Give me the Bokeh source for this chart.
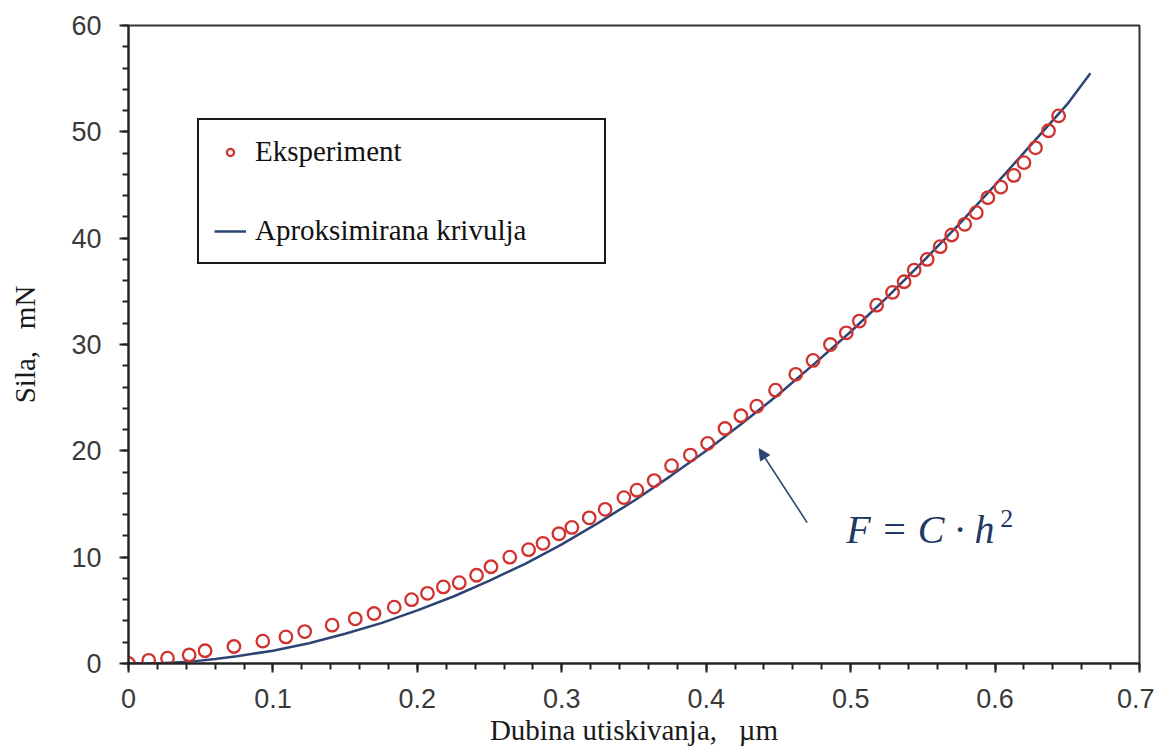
from bokeh.plotting import figure
from bokeh.models import (FixedTicker, Legend, LegendItem, Label, Arrow, NormalHead)
from bokeh.embed import file_html
from bokeh.resources import INLINE

# ---- data ----
h_exp = [0.000, 0.014, 0.027, 0.042, 0.053, 0.073, 0.093, 0.109, 0.122, 0.141,
         0.157, 0.170, 0.184, 0.196, 0.207, 0.218, 0.229, 0.241, 0.251, 0.264,
         0.277, 0.287, 0.298, 0.307, 0.319, 0.330, 0.343, 0.352, 0.364, 0.376,
         0.389, 0.401, 0.413, 0.424, 0.435, 0.448, 0.462, 0.474, 0.486, 0.497,
         0.506, 0.518, 0.529, 0.537, 0.544, 0.553, 0.562, 0.570, 0.579, 0.587,
         0.595, 0.604, 0.613, 0.620, 0.628, 0.637, 0.644]
F_exp = [0.0, 0.3, 0.5, 0.8, 1.2, 1.6, 2.1, 2.5, 3.0, 3.6,
         4.2, 4.7, 5.3, 6.0, 6.6, 7.2, 7.6, 8.3, 9.1, 10.0,
         10.7, 11.3, 12.2, 12.8, 13.7, 14.5, 15.6, 16.3, 17.2, 18.6,
         19.6, 20.7, 22.1, 23.3, 24.2, 25.7, 27.2, 28.5, 30.0, 31.1,
         32.2, 33.7, 34.9, 35.9, 37.0, 38.0, 39.2, 40.3, 41.3, 42.4,
         43.8, 44.8, 45.9, 47.1, 48.5, 50.1, 51.5]

h_fit = [0.0, 0.025, 0.045, 0.06, 0.075, 0.1, 0.125, 0.15, 0.175, 0.2,
         0.225, 0.25, 0.275, 0.3, 0.325, 0.35, 0.375, 0.4, 0.425, 0.45,
         0.475, 0.5, 0.525, 0.55, 0.575, 0.6, 0.625, 0.65, 0.666]
F_fit = [0.0, 0.05, 0.2, 0.42, 0.68, 1.2, 1.9, 2.8, 3.8, 5.0,
         6.3, 7.8, 9.4, 11.2, 13.2, 15.3, 17.6, 20.0, 22.6, 25.3,
         28.2, 31.2, 34.4, 37.8, 41.3, 45.0, 48.8, 52.6, 55.5]

x_ticks = [0.0, 0.1, 0.2, 0.3, 0.4, 0.5, 0.6, 0.7]
x_tick_labels = ["0", "0.1", "0.2", "0.3", "0.4", "0.5", "0.6", "0.7"]
y_ticks = [0, 10, 20, 30, 40, 50, 60]
y_tick_labels = ["0", "10", "20", "30", "40", "50", "60"]

series_names = ["Eksperiment", "Aproksimirana krivulja"]
x_title = "Dubina utiskivanja,\u00a0\u00a0 \u00b5m"
y_title = "Sila,\u00a0\u00a0 mN"
formula_main = "F = C \u00b7 h"
formula_exp = "2"

RED = "#d0322f"
NAVY = "#2c4474"
SERIF = "Liberation Serif"
SANS = "Liberation Sans"

p = figure(width=1154, height=748, x_range=(0, 0.7), y_range=(0, 60),
           output_backend="svg", toolbar_location=None,
           min_border_left=128, min_border_right=15,
           min_border_top=25, min_border_bottom=84)
p.background_fill_color = "white"
p.border_fill_color = "white"
p.grid.visible = False
p.outline_line_color = "#333333"
p.outline_line_width = 2

minor_x = [round(i * 0.02, 2) for i in range(36)]
minor_y = list(range(0, 61, 2))
p.xaxis.ticker = FixedTicker(ticks=x_ticks, minor_ticks=minor_x)
p.yaxis.ticker = FixedTicker(ticks=y_ticks, minor_ticks=minor_y)
p.xaxis.major_label_overrides = {t: s for t, s in zip(x_ticks, x_tick_labels)}
p.yaxis.major_label_overrides = {t: s for t, s in zip(y_ticks, y_tick_labels)}

for ax in (p.xaxis, p.yaxis):
    ax.axis_line_color = "#222222"
    ax.axis_line_width = 2
    ax.major_tick_line_color = "#222222"
    ax.minor_tick_line_color = "#222222"
    ax.major_tick_line_width = 2
    ax.minor_tick_line_width = 2
    ax.major_tick_in = 0
    ax.minor_tick_in = 0
    ax.major_tick_out = 9
    ax.minor_tick_out = 6
    ax.major_label_text_font = SANS
    ax.major_label_text_font_size = "27px"
    ax.major_label_text_color = "#3a3a3a"
    ax.axis_label_text_font = SERIF
    ax.axis_label_text_font_size = "29px"
    ax.axis_label_text_font_style = "normal"
    ax.axis_label_text_color = "#1a1a1a"

p.xaxis.major_label_standoff = 16
p.yaxis.major_label_standoff = 18
p.xaxis.axis_label = x_title
p.yaxis.axis_label = y_title
p.xaxis.axis_label_standoff = 3
p.yaxis.axis_label_standoff = 27

line_r = p.line(h_fit, F_fit, line_color=NAVY, line_width=2.5)
pts_r = p.scatter(h_exp, F_exp, marker="circle", size=12.5, fill_color="white",
                  fill_alpha=0.0, line_color=RED, line_width=2.3)

legend = Legend(items=[LegendItem(label=series_names[0], renderers=[pts_r]),
                       LegendItem(label=series_names[1], renderers=[line_r])],
                location=(69, 399))
legend.label_text_font = SERIF
legend.label_text_font_size = "29px"
legend.label_text_color = "#111111"
legend.glyph_width = 32
legend.glyph_height = 18
legend.label_height = 32
legend.label_width = 334
legend.label_standoff = 9
legend.spacing = 46
legend.padding = 15
legend.margin = 0
legend.border_line_color = "#1a1a1a"
legend.border_line_alpha = 1.0
legend.border_line_width = 2
legend.background_fill_color = "white"
p.add_layout(legend)

arrow_tail = (0.4699, 13.25)
arrow_tip = (0.4366, 20.2)
p.add_layout(Arrow(end=NormalHead(size=11, fill_color=NAVY, line_color=NAVY),
                   x_start=arrow_tail[0], y_start=arrow_tail[1],
                   x_end=arrow_tip[0], y_end=arrow_tip[1],
                   line_color=NAVY, line_width=1.6))

p.add_layout(Label(x=0.497, y=12.6, text=formula_main, text_font=SERIF,
                   text_font_style="italic", text_font_size="40px",
                   text_color="#1f3864", text_baseline="alphabetic"))
p.add_layout(Label(x=0.6035, y=13.6, text=formula_exp, text_font=SERIF,
                   text_font_style="normal", text_font_size="26px",
                   text_color="#1f3864", text_baseline="alphabetic"))

open("out.html", "w").write(file_html(p, INLINE))
